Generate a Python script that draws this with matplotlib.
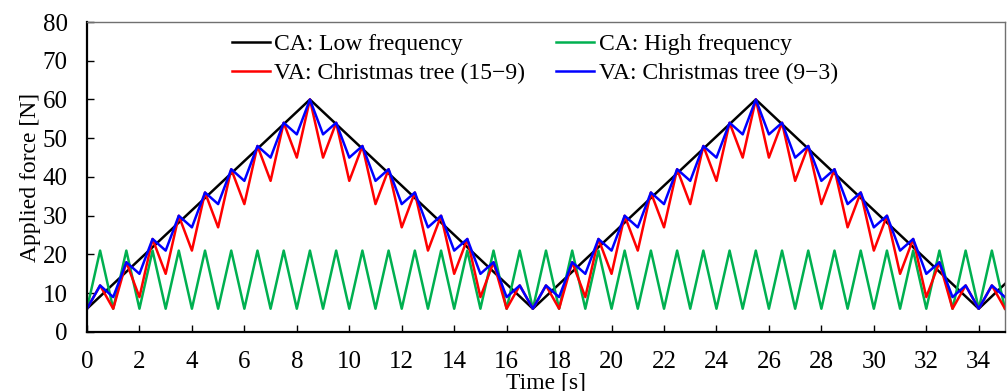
import numpy as np
import matplotlib
matplotlib.use("Agg")
import matplotlib.pyplot as plt

plt.rcParams['font.family'] = ['Liberation Serif', 'DejaVu Serif']

# time base for the 0.5 s sampled series
time_half = np.arange(0, 35.5, 0.5)

# CA: low frequency (corner points)
time_low = [0, 8.5, 17, 25.5, 34, 35]
force_low = [6, 60, 6, 60, 6, 12.4]

# CA: high frequency
force_high = [6, 21, 6, 21, 6, 21, 6, 21, 6, 21, 6, 21, 6, 21, 6, 21, 6, 21,
              6, 21, 6, 21, 6, 21, 6, 21, 6, 21, 6, 21, 6, 21, 6, 21, 6, 21,
              6, 21, 6, 21, 6, 21, 6, 21, 6, 21, 6, 21, 6, 21, 6, 21, 6, 21,
              6, 21, 6, 21, 6, 21, 6, 21, 6, 21, 6, 21, 6, 21, 6, 21, 6]

# VA: Christmas tree (15-9)
force_tree_15_9 = [6, 12, 6, 18, 9, 24, 15, 30, 21, 36, 27, 42, 33, 48, 39, 54, 45, 60,
                   45, 54, 39, 48, 33, 42, 27, 36, 21, 30, 15, 24, 9, 18, 6, 12,
                   6, 12, 6, 18, 9, 24, 15, 30, 21, 36, 27, 42, 33, 48, 39, 54, 45, 60,
                   45, 54, 39, 48, 33, 42, 27, 36, 21, 30, 15, 24, 9, 18, 6, 12,
                   6, 12, 6]

# VA: Christmas tree (9-3)
force_tree_9_3 = [6, 12, 9, 18, 15, 24, 21, 30, 27, 36, 33, 42, 39, 48, 45, 54, 51, 60,
                  51, 54, 45, 48, 39, 42, 33, 36, 27, 30, 21, 24, 15, 18, 9, 12,
                  6, 12, 9, 18, 15, 24, 21, 30, 27, 36, 33, 42, 39, 48, 45, 54, 51, 60,
                  51, 54, 45, 48, 39, 42, 33, 36, 27, 30, 21, 24, 15, 18, 9, 12,
                  6, 12, 9]

fig = plt.figure(figsize=(10.08, 3.91), dpi=100)
ax = fig.add_axes([0.0863, 0.151, 0.9107, 0.7927])

lw = 1.8
l_low, = ax.plot(time_low, force_low, color='black', lw=lw)
l_high, = ax.plot(time_half, force_high, color='#00b050', lw=lw)
l_red, = ax.plot(time_half, force_tree_15_9, color='#ff0000', lw=lw)
l_blue, = ax.plot(time_half, force_tree_9_3, color='#0000ff', lw=lw)

ax.set_xlim(0, 35)
ax.set_ylim(0, 80)
ax.set_xticks(np.arange(0, 35, 2))
ax.set_yticks(np.arange(0, 81, 10))
ax.tick_params(direction='in', length=5, width=1, labelsize=18, color='black')
ax.tick_params(axis='x', pad=14)
ax.tick_params(axis='y', pad=14)

for side in ['left', 'bottom']:
    ax.spines[side].set_linewidth(1.6)
    ax.spines[side].set_color('black')
for side in ['top', 'right']:
    ax.spines[side].set_linewidth(1.0)
    ax.spines[side].set_color('#707070')

ax.set_xlabel('Time [s]', fontsize=17, labelpad=-1)
ax.set_ylabel('Applied force [N]', fontsize=17, labelpad=1)

# column-wise fill: black/red in first column, green/blue in second
ax.legend([l_low, l_red, l_high, l_blue],
          ['CA: Low frequency', 'VA: Christmas tree (15\u22129)',
           'CA: High frequency', 'VA: Christmas tree (9\u22123)'],
          ncol=2, loc='upper left', bbox_to_anchor=(0.145, 1.0), frameon=False,
          fontsize=17, handlelength=1.6, handletextpad=0.2, columnspacing=1.3,
          labelspacing=0.32, borderaxespad=0.1)

fig.savefig('out.png', dpi=100)
